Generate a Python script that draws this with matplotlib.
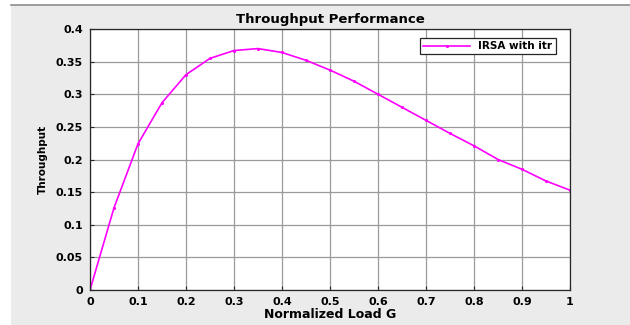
import numpy as np
import matplotlib
matplotlib.use('Agg')
import matplotlib.pyplot as plt
from matplotlib.patches import Rectangle
from matplotlib.lines import Line2D

# Du lieu doc tu hinh
load_g = [0, 0.05, 0.1, 0.15, 0.2, 0.25, 0.3, 0.35, 0.4, 0.45, 0.5,
          0.55, 0.6, 0.65, 0.7, 0.75, 0.8, 0.85, 0.9, 0.95, 1.0]
throughput = [0, 0.126, 0.224, 0.287, 0.330, 0.355, 0.367, 0.370, 0.364, 0.352, 0.337,
              0.320, 0.300, 0.280, 0.260, 0.240, 0.221, 0.200, 0.185, 0.167, 0.153]
x_ticks = [0, 0.1, 0.2, 0.3, 0.4, 0.5, 0.6, 0.7, 0.8, 0.9, 1]
x_tick_labels = ['0', '0.1', '0.2', '0.3', '0.4', '0.5', '0.6', '0.7', '0.8', '0.9', '1']
y_ticks = [0, 0.05, 0.1, 0.15, 0.2, 0.25, 0.3, 0.35, 0.4]
y_tick_labels = ['0', '0.05', '0.1', '0.15', '0.2', '0.25', '0.3', '0.35', '0.4']

plt.rcParams['font.family'] = ['DejaVu Sans']
plt.rcParams['font.weight'] = 'bold'

fig = plt.figure(figsize=(6.3, 3.25), dpi=100)
fig.patch.set_facecolor('white')

# Nen xam kieu cua so MATLAB
fig.patches.append(Rectangle((11 / 630, 0), 1 - 11 / 630, 1 - 5 / 325,
                             transform=fig.transFigure, facecolor='#ebebeb',
                             edgecolor='none', zorder=-10))
fig.lines.append(Line2D([11 / 630, 1], [1 - 4.5 / 325, 1 - 4.5 / 325],
                        transform=fig.transFigure, color='#8c8c8c', lw=1.2, zorder=-9))

ax = fig.add_axes([90 / 630, 1 - 290 / 325, 480 / 630, 261 / 325])
ax.set_facecolor('white')

ax.plot(load_g, throughput, color='#ff00ff', lw=1.2, marker='.', markersize=2.5,
        label='IRSA with itr')

ax.set_xlim(0, 1)
ax.set_ylim(0, 0.4)
ax.set_xticks(x_ticks)
ax.set_xticklabels(x_tick_labels)
ax.set_yticks(y_ticks)
ax.set_yticklabels(y_tick_labels)
ax.tick_params(direction='in', length=3, labelsize=8, pad=5, color='#262626')
ax.grid(True, color='#9a9a9a', lw=0.9)
for s in ax.spines.values():
    s.set_color('#262626')
    s.set_linewidth(0.9)

ax.set_title('Throughput Performance', fontsize=9.5, fontweight='bold', pad=4)
ax.set_xlabel('Normalized Load G', fontsize=9, fontweight='bold', labelpad=1)
ax.set_ylabel('Throughput', fontsize=7.5, fontweight='bold', labelpad=6)

leg = ax.legend(loc='upper right', bbox_to_anchor=(0.97, 0.965),
                fancybox=False, framealpha=1, borderpad=0.3, handlelength=4.5,
                borderaxespad=0, prop={'weight': 'bold', 'size': 7.5})
leg.get_frame().set_edgecolor('#262626')
leg.get_frame().set_linewidth(0.9)

plt.savefig('out.png', dpi=100)
